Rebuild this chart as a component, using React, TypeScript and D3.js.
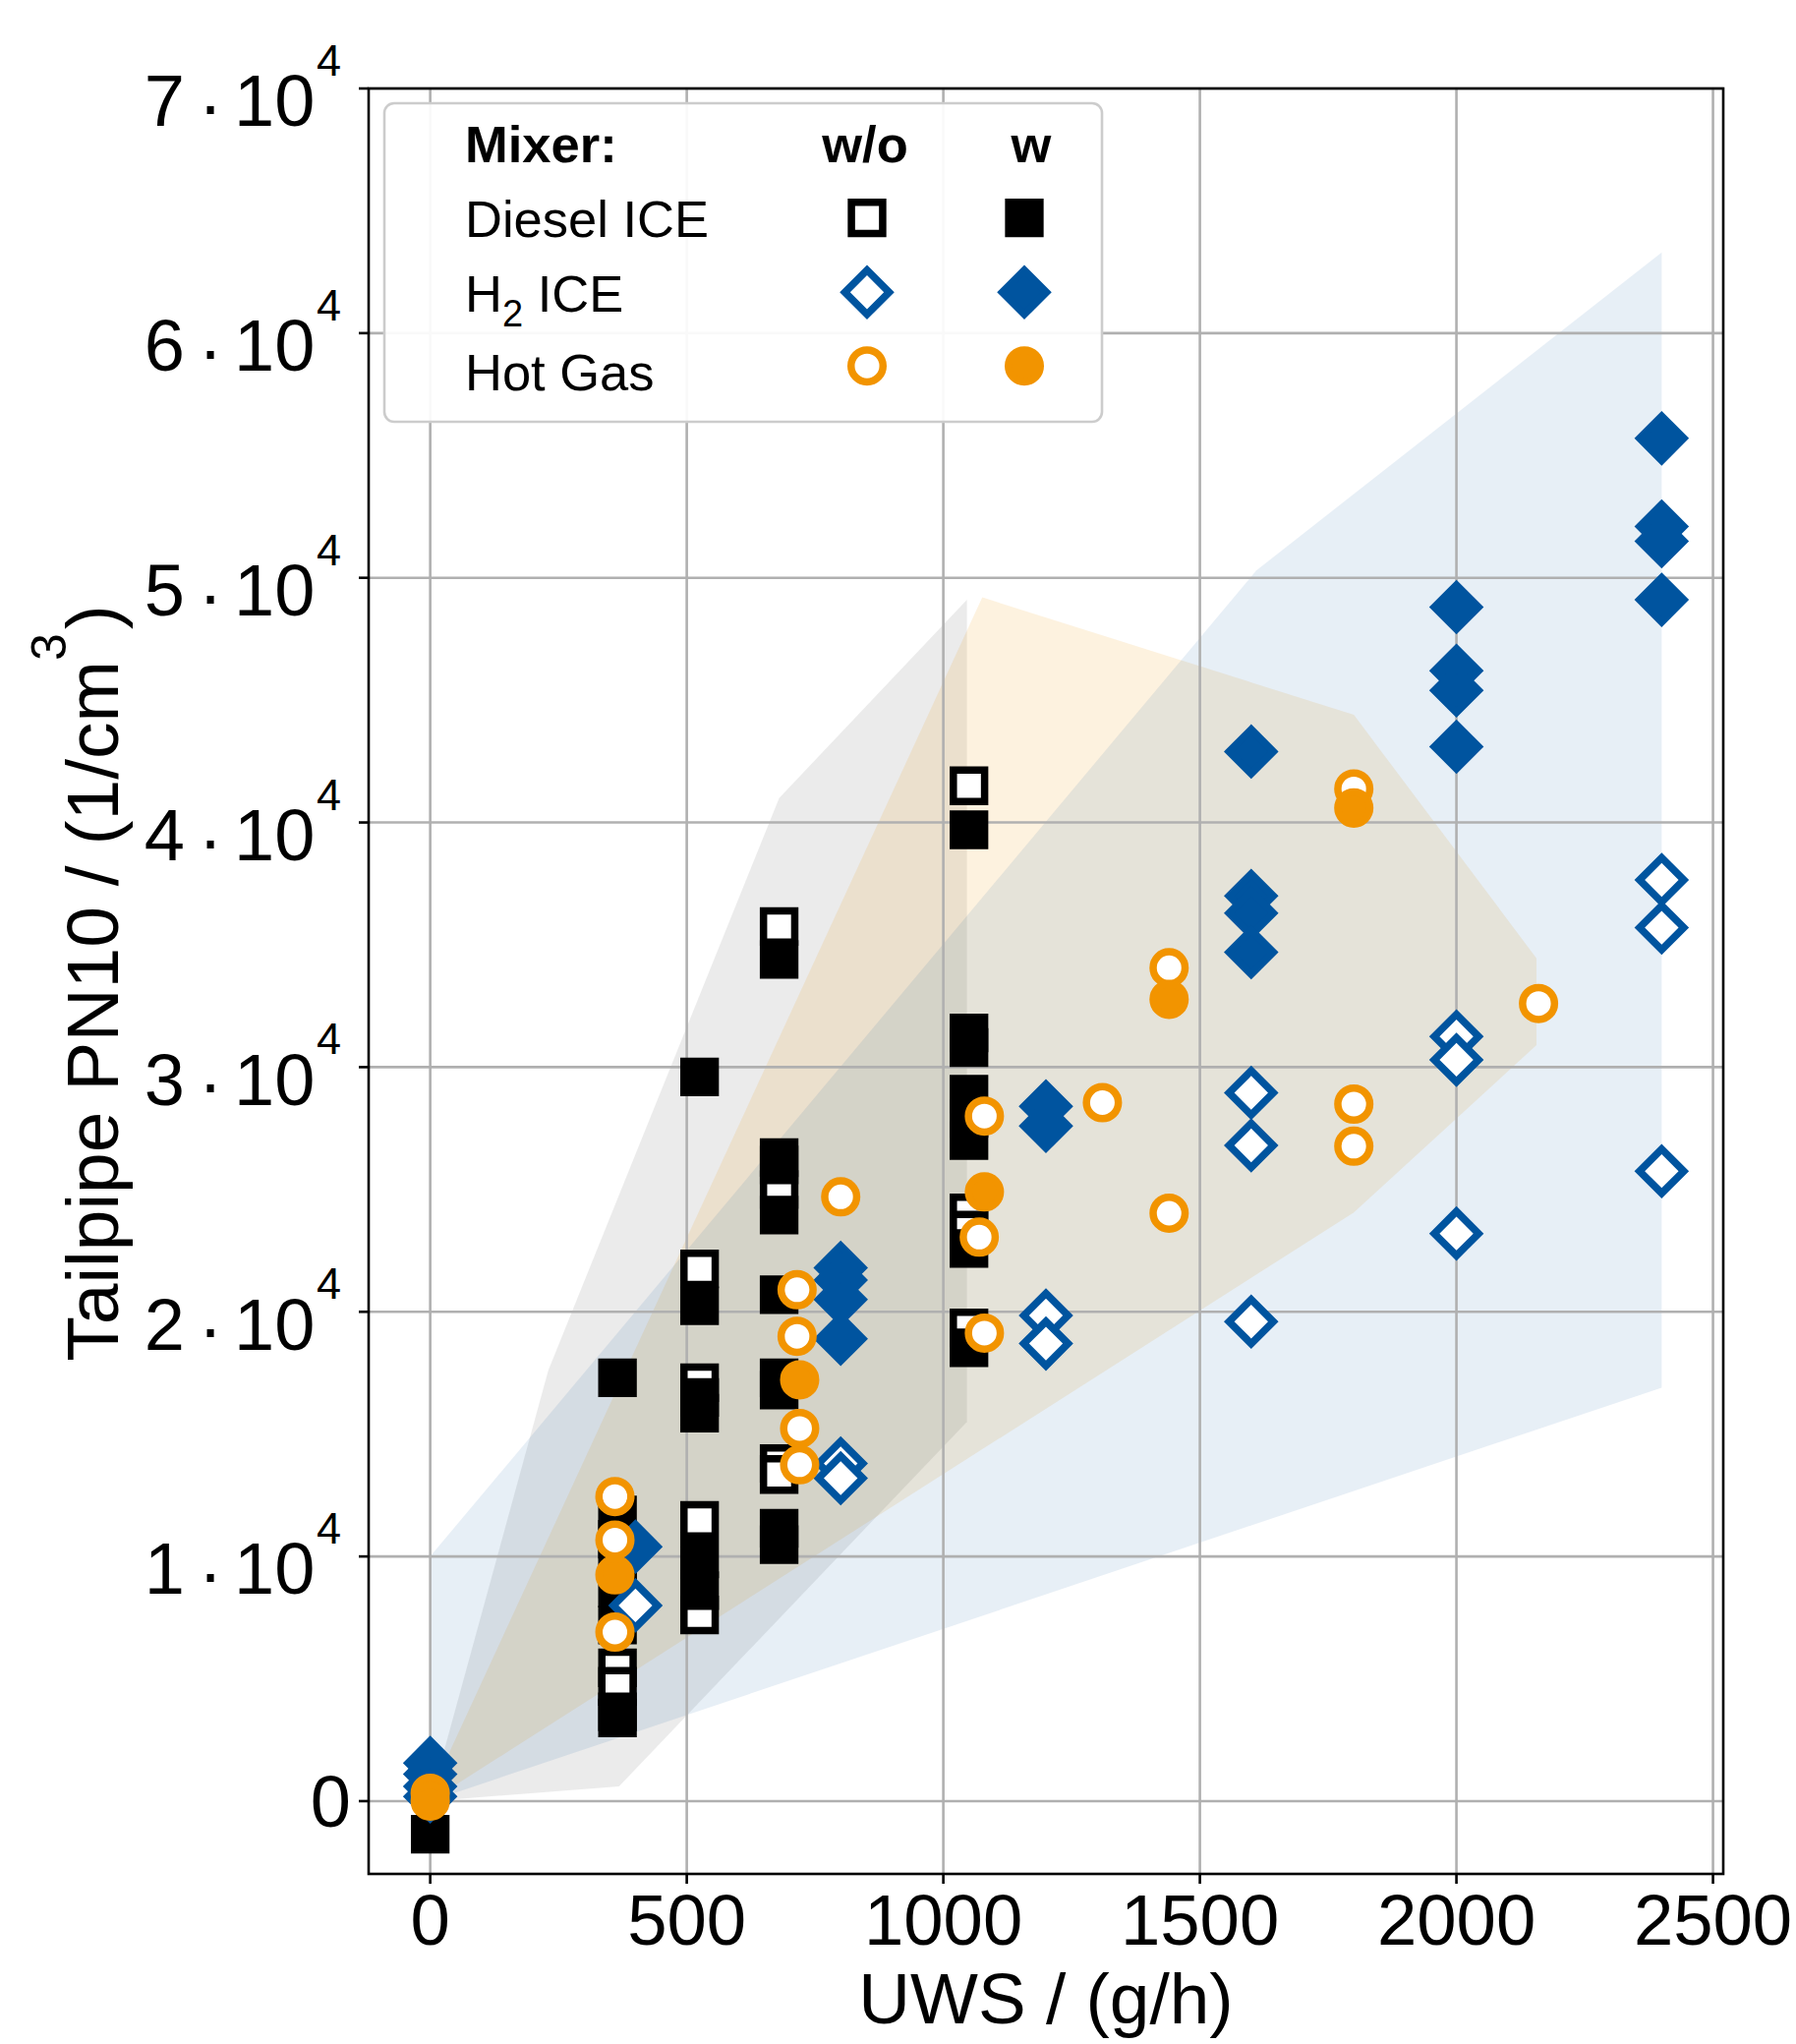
import React from 'react';
import * as d3 from 'd3';

// tick values
const xTicks = [0, 500, 1000, 1500, 2000, 2500];
const yTickMantissa = [0, 1, 2, 3, 4, 5, 6, 7]; // x 10^4

// Diesel ICE, without / with mixer  [UWS g/h, PN10 1/cm3]
const dieselWithout: [number, number][] = [
  [365, 5450], [365, 4690],
  [525, 21750], [525, 17100], [525, 11480], [525, 7610],
  [680, 35750], [680, 25000], [680, 13800], [680, 13350],
  [1050, 41500], [1050, 24040], [1050, 23340], [1050, 19340],
];
const dieselWith: [number, number][] = [
  [0, -1350],
  [365, 17300], [365, 11700], [365, 10700], [365, 9700], [365, 8700], [365, 7200], [365, 3650], [365, 3400],
  [525, 29600], [525, 20250], [525, 16500], [525, 15860], [525, 9900], [525, 8600],
  [680, 34400], [680, 26300], [680, 26000], [680, 23950], [680, 20700], [680, 17300], [680, 16800], [680, 11150], [680, 10480],
  [1050, 39700], [1050, 31400], [1050, 30800], [1050, 28900], [1050, 27900], [1050, 27000], [1050, 22590], [1050, 18530],
];

// H2 ICE
const h2Without: [number, number][] = [
  [400, 8000], [800, 13800], [800, 13200], [1200, 19850], [1200, 18700],
  [1600, 28950], [1600, 26800], [1600, 19600],
  [2000, 31250], [2000, 30300], [2000, 23200],
  [2400, 37650], [2400, 35700], [2400, 25750],
];
const h2With: [number, number][] = [
  [0, 1560], [0, 1100], [0, 600], [0, 190],
  [400, 10400], [800, 21800], [800, 21300], [800, 20500], [800, 18900],
  [1200, 28400], [1200, 27600],
  [1600, 42900], [1600, 37000], [1600, 36300], [1600, 34700],
  [2000, 48800], [2000, 46200], [2000, 45400], [2000, 43100],
  [2400, 55700], [2400, 52100], [2400, 51500], [2400, 49100],
];

// Hot Gas
const hotGasWithout: [number, number][] = [
  [360, 12450], [360, 10670], [360, 6910],
  [715, 20900], [715, 19000], [720, 15230], [720, 13750], [800, 24700],
  [1080, 28000], [1070, 23050], [1080, 19130], [1310, 28550],
  [1440, 34060], [1440, 24030], [1800, 41370], [1800, 28490], [1800, 26770], [2160, 32600],
];
const hotGasWith: [number, number][] = [
  [0, 320], [0, 0], [360, 9250], [720, 17220], [1080, 24900], [1440, 32770], [1800, 40590],
];

// shaded areas
const dieselArea: [number, number][] = [[0, 0], [230, 17600], [680, 41000], [1046, 49100], [1046, 15500], [368, 600]];
const hotGasArea: [number, number][] = [[0, 300], [1076, 49200], [1800, 44400], [2156, 34450], [2156, 30900], [1800, 24060], [0, 0]];
const h2Area: [number, number][] = [[0, 0], [0, 10000], [1610, 50300], [2400, 63300], [2400, 16900]];

const BLUE = '#00549F';
const ORANGE = '#F29400';
const BLACK = '#000000';
const FONT = 'Liberation Sans, Arial, sans-serif';

const W = 1827;
const H = 2079;
const left = 375, right = 1753, top = 90, bottom = 1906;

const x = d3.scaleLinear().domain([-120, 2520]).range([left, right]);
const y = d3.scaleLinear().domain([-2975, 70000]).range([bottom, top]);

const squarePath = d3.symbol(d3.symbolSquare, 1011)()!;
const circlePath = d3.symbol(d3.symbolCircle, 830)()!;
const EW = 7.5;

type Kind = 'square' | 'diamond' | 'circle';

const Marker = ({ cx, cy, kind, color, filled }: { cx: number; cy: number; kind: Kind; color: string; filled: boolean }) => {
  const d = kind === 'circle' ? circlePath : squarePath;
  const rot = kind === 'diamond' ? ' rotate(45)' : '';
  return (
    <path
      d={d}
      transform={`translate(${cx},${cy})${rot}`}
      fill={filled ? color : '#ffffff'}
      stroke={color}
      strokeWidth={EW}
    />
  );
};

const Series = ({ data, kind, color, filled }: { data: [number, number][]; kind: Kind; color: string; filled: boolean }) => (
  <g>
    {data.map((p, i) => (
      <Marker key={i} cx={x(p[0])} cy={y(p[1])} kind={kind} color={color} filled={filled} />
    ))}
  </g>
);

const area = (pts: [number, number][]) =>
  d3.line<[number, number]>().x((d) => x(d[0])).y((d) => y(d[1]))(pts) + 'Z';

export default function App() {
  const legendRows = [
    { kind: 'square' as Kind, color: BLACK, cy: 221.7 },
    { kind: 'diamond' as Kind, color: BLUE, cy: 297.2 },
    { kind: 'circle' as Kind, color: ORANGE, cy: 372.2 },
  ];
  return (
    <svg
      width={W}
      height={H}
      style={{ position: 'absolute', left: 0, top: 0, background: '#fff' }}
      fontFamily={FONT}
    >
      <rect width={W} height={H} fill="#fff" />

      {/* shaded areas */}
      <path d={area(dieselArea)} fill="#000" fillOpacity={0.08} />
      <path d={area(hotGasArea)} fill={ORANGE} fillOpacity={0.125} />
      <path d={area(h2Area)} fill={BLUE} fillOpacity={0.095} />

      {/* grid */}
      <g stroke="#b0b0b0" strokeWidth={2.6}>
        {xTicks.map((t) => (
          <line key={t} x1={x(t)} x2={x(t)} y1={top} y2={bottom} />
        ))}
        {yTickMantissa.map((t) => (
          <line key={t} x1={left} x2={right} y1={y(t * 1e4)} y2={y(t * 1e4)} />
        ))}
      </g>

      {/* markers */}
      <Series data={dieselWithout} kind="square" color={BLACK} filled={false} />
      <Series data={dieselWith} kind="square" color={BLACK} filled />
      <Series data={h2Without} kind="diamond" color={BLUE} filled={false} />
      <Series data={h2With} kind="diamond" color={BLUE} filled />
      <Series data={hotGasWithout} kind="circle" color={ORANGE} filled={false} />
      <Series data={hotGasWith} kind="circle" color={ORANGE} filled />

      {/* frame */}
      <rect x={left} y={top} width={right - left} height={bottom - top} fill="none" stroke="#000" strokeWidth={2.6} />

      {/* x axis */}
      {xTicks.map((t) => (
        <g key={t}>
          <line x1={x(t)} x2={x(t)} y1={bottom} y2={bottom + 10} stroke="#000" strokeWidth={2.6} />
          <text x={x(t)} y={1978} textAnchor="middle" fontSize={72.5}>
            {t}
          </text>
        </g>
      ))}
      <text x={(left + right) / 2} y={2058} textAnchor="middle" fontSize={73}>
        UWS / (g/h)
      </text>

      {/* y axis */}
      {yTickMantissa.map((t) => {
        const ty = y(t * 1e4);
        return (
          <g key={t}>
            <line x1={left - 10} x2={left} y1={ty} y2={ty} stroke="#000" strokeWidth={2.6} />
            {t === 0 ? (
              <text x={357} y={ty + 26} textAnchor="end" fontSize={74}>
                0
              </text>
            ) : (
              <g fontSize={74}>
                <text x={188} y={ty + 38.3} textAnchor="end">{t}</text>
                <text x={214} y={ty + 42} textAnchor="middle">·</text>
                <text x={238} y={ty + 38.3}>10</text>
                <text x={322} y={ty - 13} fontSize={45}>4</text>
              </g>
            )}
          </g>
        );
      })}
      <text transform="translate(120,1000) rotate(-90)" textAnchor="middle" fontSize={75}>
        Tailpipe PN10 / (1/cm
        <tspan fontSize={50} dy={-53}>3</tspan>
        <tspan dx={4} dy={53}>)</tspan>
      </text>

      {/* legend */}
      <rect x={391} y={105} width={730} height={324} rx={10} fill="#fff" fillOpacity={0.92} stroke="#cccccc" strokeWidth={2.6} />
      <g fontSize={52.5}>
        <text x={473} y={165} fontWeight="bold">Mixer:</text>
        <text x={880} y={165} fontWeight="bold" textAnchor="middle">w/o</text>
        <text x={1049} y={165} fontWeight="bold" textAnchor="middle">w</text>
        <text x={473} y={240.7}>Diesel ICE</text>
        <text x={473} y={316.7}>
          H<tspan fontSize={38} dy={15}>2</tspan>
          <tspan dy={-15}> ICE</tspan>
        </text>
        <text x={473} y={396.7}>Hot Gas</text>
      </g>
      {legendRows.map((r) => (
        <g key={r.kind}>
          <Marker cx={882} cy={r.cy} kind={r.kind} color={r.color} filled={false} />
          <Marker cx={1042} cy={r.cy} kind={r.kind} color={r.color} filled />
        </g>
      ))}
    </svg>
  );
}
